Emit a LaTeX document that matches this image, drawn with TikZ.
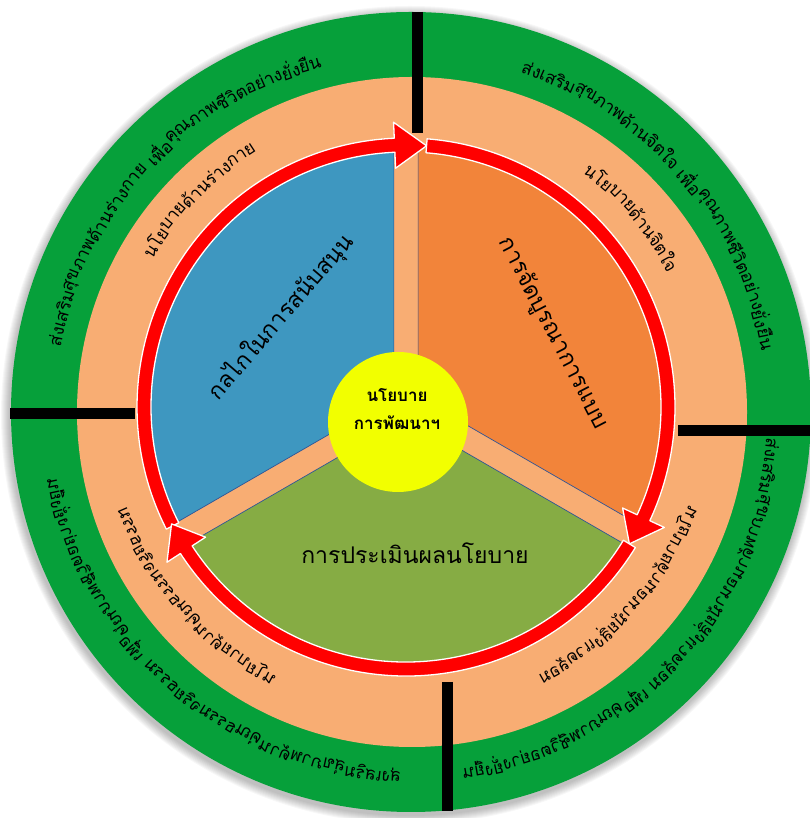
\documentclass[tikz,border=0pt]{standalone}
\usepackage{fontspec}
\newfontfamily\thaifont[Script=Thai]{Loma}
\usetikzlibrary{calc}
\definecolor{outergreen}{RGB}{6,160,58}
\definecolor{peach}{RGB}{248,173,115}
\definecolor{wedgeblue}{RGB}{62,151,192}
\definecolor{wedgeorange}{RGB}{242,132,58}
\definecolor{wedgegreen}{RGB}{134,172,68}
\definecolor{hubyellow}{RGB}{242,255,0}
\definecolor{edgeblue}{RGB}{47,85,151}
\tikzset{
    wedge/.style={draw=edgeblue, line width=0.7pt},
    cyclearrow/.style={fill=red, draw=white, line width=1.3pt, line join=round},
    divider/.style={draw=black, line width=11pt},
    ringlabel/.style={inner sep=0pt},
    wedgelabel/.style={inner sep=0pt, font=\wedgefont},
    hub/.style={circle, fill=hubyellow, minimum size=140pt, inner sep=0pt} }
\newcommand\outerfont{\thaifont\fontsize{17.5}{20}\selectfont}
\newcommand\innerfont{\thaifont\fontsize{17.5}{20}\selectfont}
\newcommand\wedgefont{\thaifont\fontsize{23}{27}\selectfont}
\newcommand\hubfont{\thaifont\bfseries\fontsize{17}{28}\selectfont}
% text set piece by piece round a circle, clockwise, centred on an angle
\newlength\piecewd
\makeatletter
\newcommand\setpiecewd[1]{\begingroup
  \ifdefined\pgf@selectfontorig\let\selectfont\pgf@selectfontorig\fi
  \setbox0\hbox{\pgfinterruptpicture#1\endpgfinterruptpicture}%
  \global\piecewd=\wd0\endgroup}
\makeatother
\newcommand\ringtext[6]{% centre, radius, middle angle, font, pieces, name
  \xdef\totalwd{0}%
  \foreach \piece in {#5}{%
    \setpiecewd{#4\piece}%
    \pgfmathsetmacro\sumwd{\totalwd+\piecewd}%
    \xdef\totalwd{\sumwd}}%
  \pgfmathsetmacro\startang{#3+\totalwd/(pi*#2)*90}%
  \xdef\curang{\startang}%
  \foreach \piece [count=\k] in {#5}{%
    \setpiecewd{#4\piece}%
    \pgfmathsetmacro\halfang{\piecewd/(pi*#2)*90}%
    \pgfmathsetmacro\midang{\curang-\halfang}%
    \pgfmathsetmacro\flip{or(sin(\midang)<-0.31, and(cos(\midang)<0, sin(\midang)<0)) ? -1 : 1}%
    \node[ringlabel, font=#4, rotate=\midang-90] (#6\k) at ($(#1)+(\midang:#2)$) {\scalebox{1}[\flip]{\piece}};
    \pgfmathsetmacro\nextang{\curang-2*\halfang}%
    \xdef\curang{\nextang}}%
}

\begin{document}
\begin{tikzpicture}[x=1pt, y=1pt]
    \useasboundingbox (0,0) rectangle (809,818);
    \coordinate (G) at (411,406);
    \coordinate (P) at (412,406);
    \coordinate (R) at (406,411);
    \coordinate (C) at (406,414);
    % ---- outer rings
    \foreach \s in {1,...,9}
        \fill[black, opacity=0.03] ($(G)+(-1,-3)$) circle[radius=400pt+\s pt];
    \fill[outergreen] (G) circle[radius=400pt];
    \fill[peach] (P) circle[radius=335pt];
    % ---- wedges
    \begin{scope}[shift={(C)}]
        \filldraw[wedge, fill=wedgeblue] (150:14) -- ++(90:250) arc[start angle=90, end angle=210, radius=250pt] -- cycle;
        \filldraw[wedge, fill=wedgeorange] (30:14) -- ++(-30:250) arc[start angle=-30, end angle=90, radius=250pt] -- cycle;
        \filldraw[wedge, fill=wedgegreen] (270:14) -- ++(210:250) arc[start angle=210, end angle=330, radius=250pt] -- cycle;
    \end{scope}
    % ---- dividers
    \coordinate (divtopA) at (417.5,806);  \coordinate (divtopB) at (417.5,685);
    \coordinate (divleftA) at (10,404);    \coordinate (divleftB) at (135,404);
    \coordinate (divrightA) at (678,387);  \coordinate (divrightB) at (810,387);
    \coordinate (divbotA) at (447.5,136);  \coordinate (divbotB) at (447.5,7);
    \draw[divider] (divtopA) -- (divtopB);
    \draw[divider] (divleftA) -- (divleftB);
    \draw[divider] (divrightA) -- (divrightB);
    \draw[divider] (divbotA) -- (divbotB);
    % ---- cycle arrows
    \begin{scope}[shift={(R)}]
        \foreach \tail/\base/\tip in {207/92.5/85.5, 85.5/-25/-31.5, -31.5/-147/-153.5}
            \filldraw[cyclearrow] (\tail:255) arc[start angle=\tail, end angle=\base, radius=255pt]
                -- (\base:239) -- (\tip:262) -- (\base:285) -- (\base:269)
                arc[start angle=\base, end angle=\tail, radius=269pt] -- cycle;
    \end{scope}
    % ---- hub and wedge labels
    \node[hub] (hub) at (398,396) {};
    \node[font=\hubfont, align=center] (hubtext) at (397,409) {นโยบาย\\การพัฒนาฯ};
    \node[wedgelabel, rotate=49.4] (support) at (281,501) {กลไกในการสนับสนุน};
    \node[wedgelabel, rotate=-62.6] (integrate) at (553,485) {การจัดบูรณาการแบบ};
    \node[wedgelabel] (evaluate) at (415,265) {การประเมินผลนโยบาย};
    % ---- ring texts
    \ringtext{R}{301}{135}{\innerfont}{นโย,บาย,ด้าน,ร่าง,กาย}{tli}
    \ringtext{R}{301}{40}{\innerfont}{นโย,บาย,ด้าน,จิต,ใจ}{tri}
    \ringtext{R}{301}{-41.5}{\innerfont}{นโย,บาย,ด้าน,อนา,มัย,สิ่ง,แวด,ล้อม}{bri}
    \ringtext{R}{301}{222}{\innerfont}{นโย,บาย,ด้าน,คุณ,ธรรม,จริย,ธรรม}{bli}
    \ringtext{G}{363}{137}{\outerfont}{ส่ง,เสริม,สุข,ภาพ,ด้าน,ร่าง,กาย,~เพื่อ,คุณ,ภาพ,ชีวิต,อย่าง,ยั่ง,ยืน}{tlo}
    \ringtext{G}{363}{41}{\outerfont}{ส่ง,เสริม,สุข,ภาพ,ด้าน,จิต,ใจ,~เพื่อ,คุณ,ภาพ,ชีวิต,อย่าง,ยั่ง,ยืน}{tro}
    \ringtext{G}{363}{-43}{\outerfont}{ส่ง,เสริม,สุข,ภาพ,ด้าน,อนา,มัย,สิ่ง,แวด,ล้อม,~เพื่อ,คุณ,ภาพ,ชีวิต,อย่าง,ยั่ง,ยืน}{bro}
    \ringtext{G}{363}{229.5}{\outerfont}{ส่ง,เสริม,สุข,ภาพ,ด้าน,คุณ,ธรรม,จริย,ธรรม,~เพื่อ,คุณ,ภาพ,ชีวิต,อย่าง,ยั่ง,ยืน}{blo}
\end{tikzpicture}
\end{document}
